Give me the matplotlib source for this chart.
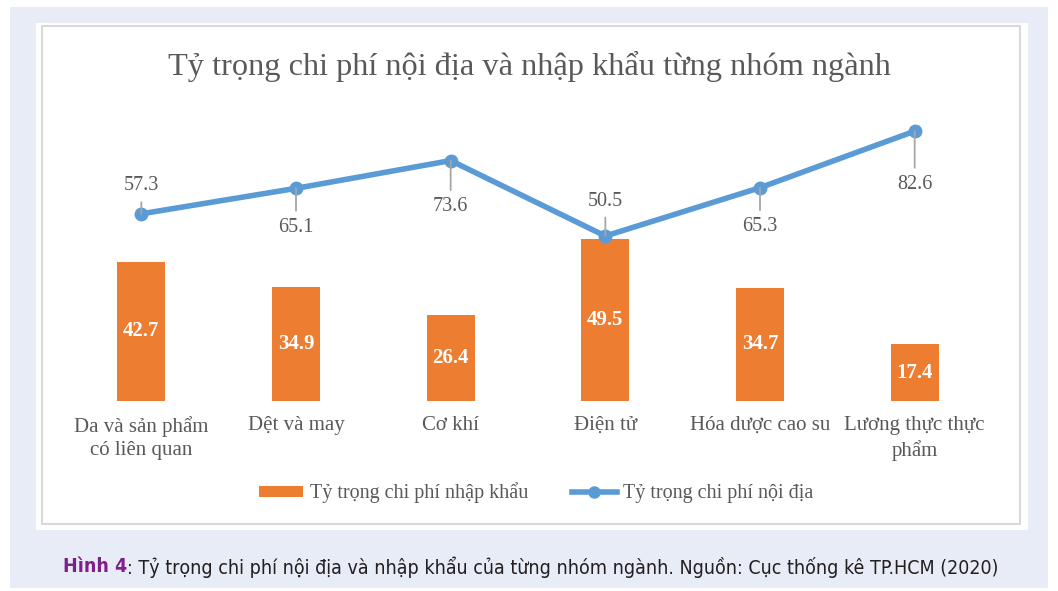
import matplotlib
matplotlib.use('Agg')
import matplotlib.pyplot as plt
from matplotlib.patches import Rectangle
from matplotlib.lines import Line2D

# data
categories = ['Da và sản phẩm\ncó liên quan', 'Dệt và may', 'Cơ khí', 'Điện tử',
              'Hóa dược cao su', 'Lương thực thực\nphẩm']
import_share = [42.7, 34.9, 26.4, 49.5, 34.7, 17.4]
domestic_share = [57.3, 65.1, 73.6, 50.5, 65.3, 82.6]
# label offset (pixels, + = above point)
label_offsets = [28, -39, -46, 35, -39, -53]

W, H = 1058, 591
fig = plt.figure(figsize=(W / 100, H / 100), dpi=100)
fig.patch.set_facecolor('white')

def fx(px):
    return px / W

def fy(py):
    return 1 - py / H

# background and panel
fig.patches.append(Rectangle((fx(10), fy(588)), fx(1048) - fx(10), fy(7) - fy(588),
                             transform=fig.transFigure, facecolor='#e8ecf7', edgecolor='none', zorder=0))
fig.patches.append(Rectangle((fx(36), fy(530)), fx(1028) - fx(36), fy(23) - fy(530),
                             transform=fig.transFigure, facecolor='white', edgecolor='none', zorder=0))
fig.patches.append(Rectangle((fx(42), fy(524)), fx(1020) - fx(42), fy(26) - fy(524),
                             transform=fig.transFigure, facecolor='none', edgecolor='#d9d9d9',
                             linewidth=1.5, zorder=1))

serif = ['Liberation Serif', 'DejaVu Serif']
grey = '#595959'

ax = fig.add_axes([fx(64), fy(401), fx(992) - fx(64), fy(107) - fy(401)])
ax.set_zorder(5)
ax.set_facecolor('none')
x = list(range(len(categories)))
bars = ax.bar(x, import_share, width=0.31, color='#ed7d31', zorder=2,
              label='Tỷ trọng chi phí nhập khẩu')
ax.plot(x, domestic_share, color='#5b9bd5', linewidth=4, marker='o', markersize=9,
        zorder=3, label='Tỷ trọng chi phí nội địa', solid_capstyle='round')
ax.set_xlim(-0.5, len(categories) - 0.5)
ax.set_ylim(0, 90)
for s in ax.spines.values():
    s.set_visible(False)
ax.set_yticks([])
ax.set_xticks(x)
ax.set_xticklabels(categories, fontsize=15, color=grey, family=serif, linespacing=1.3)
ax.tick_params(axis='x', length=0, pad=11)

for xi, v in zip(x, import_share):
    ax.text(xi, v / 2, f'{v}', ha='center', va='center', color='white',
            fontsize=15, fontweight='bold', family=serif, zorder=4)

for xi, v, off in zip(x, domestic_share, label_offsets):
    ax.annotate(f'{v}', xy=(xi, v), xytext=(0, off), textcoords='offset pixels',
                ha='center', va='center', fontsize=14.5, color=grey, family=serif,
                arrowprops=dict(arrowstyle='-', color='#a6a6a6', lw=1.3,
                                shrinkA=3, shrinkB=0), zorder=4)

fig.text(0.5, fy(66), 'Tỷ trọng chi phí nội địa và nhập khẩu từng nhóm ngành',
         ha='center', va='center', fontsize=23.3, color=grey, family=serif)

leg_handles = [Rectangle((0, 0), 1, 1, facecolor='#ed7d31'),
               Line2D([], [], color='#5b9bd5', linewidth=4, marker='o', markersize=8)]
fig.legend(leg_handles, ['Tỷ trọng chi phí nhập khẩu', 'Tỷ trọng chi phí nội địa'],
           loc='center', bbox_to_anchor=(fx(536), fy(493)), ncol=2, frameon=False,
           prop={'family': serif, 'size': 14.5}, labelcolor=grey, handlelength=2.2,
           handleheight=0.5, columnspacing=2.2, handletextpad=0.3)

# caption, scaled to the reference width
cap_font = ['DejaVu Sans']
renderer = fig.canvas.get_renderer()
cap_size = 13.5
t1 = fig.text(0, fy(567), 'Hình 4', ha='left', va='center', fontsize=cap_size,
              fontweight='bold', color='#7f1f8f', family=cap_font, fontstretch='condensed')
t2 = fig.text(0, fy(567), ': Tỷ trọng chi phí nội địa và nhập khẩu của từng nhóm ngành. Nguồn: Cục thống kê TP.HCM (2020)',
              ha='left', va='center', fontsize=cap_size, color='#231f20', family=cap_font,
              fontstretch='condensed')
w = t1.get_window_extent(renderer).width + t2.get_window_extent(renderer).width
cap_size = cap_size * 931 / w
t1.set_fontsize(cap_size)
t2.set_fontsize(cap_size)
w1 = t1.get_window_extent(renderer).width
w2 = t2.get_window_extent(renderer).width
start = 531 - (w1 + w2) / 2
t1.set_x(fx(start))
t2.set_x(fx(start + w1))

fig.savefig('out.png', dpi=100)
